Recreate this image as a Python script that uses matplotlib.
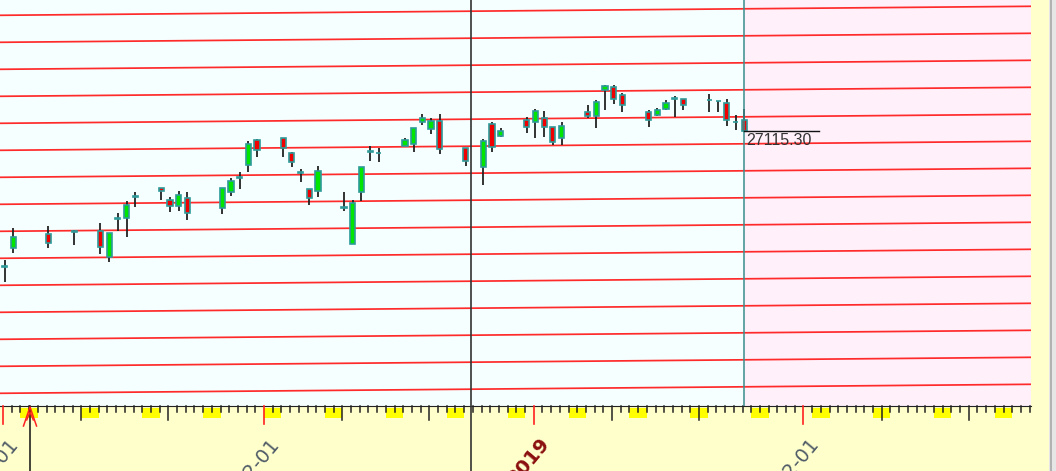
import matplotlib
matplotlib.use("Agg")
import matplotlib.pyplot as plt
import matplotlib.dates as mdates
from matplotlib.patches import Rectangle
from matplotlib.transforms import blended_transform_factory
import pandas as pd

# ---------------- data ----------------
dates = ["2018-11-01", "2018-11-02", "2018-11-06", "2018-11-09", "2018-11-12",
         "2018-11-13", "2018-11-14", "2018-11-15", "2018-11-16", "2018-11-19",
         "2018-11-20", "2018-11-21", "2018-11-22", "2018-11-26", "2018-11-27",
         "2018-11-28", "2018-11-29", "2018-11-30", "2018-12-03", "2018-12-04",
         "2018-12-05", "2018-12-06", "2018-12-07", "2018-12-10", "2018-12-11",
         "2018-12-12", "2018-12-13", "2018-12-14", "2018-12-17", "2018-12-18",
         "2018-12-19", "2018-12-20", "2018-12-21", "2018-12-24", "2018-12-26",
         "2018-12-27", "2018-12-28", "2018-12-31", "2019-01-01", "2019-01-02",
         "2019-01-03", "2019-01-04", "2019-01-07", "2019-01-08", "2019-01-09",
         "2019-01-10", "2019-01-11", "2019-01-14", "2019-01-15", "2019-01-16",
         "2019-01-17", "2019-01-18", "2019-01-21", "2019-01-22", "2019-01-23",
         "2019-01-24", "2019-01-25"]
opens = [25760, 25950, 26090, 26110, 26120, 25860, 26240, 26250, 26460, 26550,
         26430, 26370, 26450, 26350, 26510, 26650, 26780, 27030, 27050, 26900,
         26700, 26540, 26520, 26350, 25990, 26510, 26910, 26900, 26970, 26990,
         27210, 27140, 27220, 26950, 26760, 27190, 27070, 27230, 27210, 27250,
         27160, 27050, 27310, 27270, 27530, 27560, 27480, 27310, 27280, 27340,
         27440, 27440, 27430, 27420, 27400, 27210, 27230]
highs = [25830, 26150, 26170, 26130, 26200, 26100, 26300, 26420, 26510, 26550,
         26460, 26520, 26510, 26550, 26650, 26710, 27020, 27040, 27050, 26910,
         26740, 26540, 26770, 26510, 26430, 26760, 26970, 26950, 27050, 27150,
         27290, 27250, 27290, 26950, 27040, 27210, 27150, 27260, 27340, 27320,
         27160, 27210, 27380, 27430, 27580, 27580, 27500, 27330, 27350, 27430,
         27470, 27440, 27490, 27420, 27440, 27280, 27340]
lows = [25610, 25900, 25950, 25980, 25890, 25810, 26120, 26060, 26360, 26430,
        26310, 26320, 26230, 26290, 26470, 26540, 26710, 26860, 26860, 26760,
        26610, 26380, 26460, 26320, 25990, 26420, 26820, 26810, 26970, 26910,
        27180, 27090, 26890, 26770, 26580, 26910, 27060, 27100, 27050, 27060,
        26980, 26980, 27250, 27150, 27330, 27390, 27310, 27160, 27270, 27330,
        27260, 27330, 27310, 27310, 27170, 27130, 27110]
closes = [25770, 26060, 26000, 26120, 25960, 26100, 26250, 26380, 26470, 26520,
          26370, 26480, 26300, 26550, 26620, 26660, 26990, 26930, 26950, 26810,
          26710, 26450, 26720, 26360, 26400, 26760, 26920, 26900, 27030, 27150,
          27250, 27220, 26940, 26820, 27020, 26960, 27120, 27160, 27320, 27160,
          27010, 27170, 27270, 27410, 27570, 27440, 27380, 27230, 27330, 27400,
          27450, 27380, 27430, 27420, 27230, 27210, 27115.30]

# parallel channel lines (price at the left edge) and their rise across the chart
channel_levels = [28277, 28007, 27737, 27467, 27197, 26927, 26657, 26387,
                  26117, 25847, 25577, 25307, 25037, 24767, 24497]
channel_rise = 90

month_labels = ["11-01", "12-01", "2019", "02-01"]
month_dates = ["2018-11-01", "2018-12-01", "2019-01-01", "2019-02-01"]
cursor_date = "2018-12-24 18:00"
marker_date = "2018-11-04 02:30"
last_price = 27115.30

# ---------------- layout ----------------
W, H = 1056, 471
PX_DAY = 8.7
fig = plt.figure(figsize=(W / 100, H / 100), dpi=100, facecolor="#FFFFCC")
ax = fig.add_axes([0, 65 / H, 1031 / W, 406 / H])
ax.set_facecolor("#F5FFFF")

x0 = mdates.date2num(pd.Timestamp(month_dates[0]))
left = x0 - 3 / PX_DAY
right = x0 + (1031 - 3) / PX_DAY
ax.set_xlim(left, right)
ax.set_ylim(24370, 28430)
ax.set_xticks([])
ax.set_yticks([])
for s in ["top", "left", "right"]:
    ax.spines[s].set_visible(False)
ax.spines["bottom"].set_color("#222222")
ax.spines["bottom"].set_linewidth(0.8)

xs = [mdates.date2num(pd.Timestamp(d)) + 0.2 for d in dates]
last_x = xs[-1]

# future area
ax.axvspan(last_x, right, color="#FFF0FA", zorder=0, lw=0)

# channel lines
for p in channel_levels:
    ax.plot([left, right], [p, p + channel_rise], color="#FF2A2A", lw=1.25, zorder=1)

# candles
bw = 0.6
for x, o, h, l, c in zip(xs, opens, highs, lows, closes):
    ax.plot([x, x], [l, h], color="#222222", lw=1.3, zorder=3, solid_capstyle="butt")
    fc = "#00E600" if c > o else "#F00000"
    ax.add_patch(Rectangle((x - bw / 2, min(o, c)), bw, abs(c - o),
                           facecolor=fc, edgecolor="#2E9A9A", lw=1.2, zorder=4))

ax.axvline(last_x, color="#3A8C8C", lw=1.1, zorder=5)

# last price tag
ax.plot([last_x, last_x + 75 / PX_DAY], [last_price, last_price], color="#111111",
        lw=1, zorder=6)
ax.annotate(f"{last_price:.2f}", xy=(last_x, last_price), xytext=(2, -2),
            textcoords="offset pixels", ha="left", va="top", fontsize=11.5,
            family="Liberation Sans", color="#333333", zorder=6)

# ---------------- date axis band ----------------
trans = blended_transform_factory(ax.transData, fig.transFigure)


def yf(px):
    return 1 - px / H


for d in pd.date_range("2018-10-25", "2019-03-01"):
    x = mdates.date2num(d)
    if x < left or x > right:
        continue
    if d.weekday() == 5:
        ax.add_patch(Rectangle((x, yf(418)), 2, 10 / H, transform=trans,
                               facecolor="#FFFF00", lw=0, clip_on=False, zorder=1))
    if d.day == 1:
        ax.plot([x, x], [yf(406), yf(424)], transform=trans, color="#FF2020",
                lw=1.2, clip_on=False, zorder=3)
    elif d.day in (10, 20):
        ax.plot([x, x], [yf(406), yf(420)], transform=trans, color="#222222",
                lw=1.1, clip_on=False, zorder=3)
    else:
        ax.plot([x, x], [yf(406), yf(412)], transform=trans, color="#222222",
                lw=1.1, clip_on=False, zorder=3)

# month labels, rotated and running off the bottom edge like the original
for lab, d in zip(month_labels, month_dates):
    x = mdates.date2num(pd.Timestamp(d))
    bold = lab.isdigit()
    ax.text(x + 5 / PX_DAY, yf(434), lab, transform=trans, rotation=50,
            rotation_mode="anchor", ha="right", va="top", clip_on=False,
            fontsize=14, fontweight="bold" if bold else "normal",
            color="#8B1010" if bold else "#4E5A66")

# cursor line through the whole chart
cx = mdates.date2num(pd.Timestamp(cursor_date))
ax.plot([cx, cx], [0, 1], transform=trans, color="#333333", lw=1.2,
        clip_on=False, zorder=7)

# event marker on the date band
mx = mdates.date2num(pd.Timestamp(marker_date))
ax.plot([mx, mx], [yf(406), 0], transform=trans, color="#111111", lw=1.1,
        clip_on=False, zorder=7)
dx = 0.75
ax.plot([mx - dx, mx, mx + dx], [yf(426), yf(407), yf(426)], transform=trans,
        color="#FF2020", lw=1.1, clip_on=False, zorder=8)
ax.plot([mx - dx * 0.5, mx, mx + dx * 0.5], [yf(420), yf(412), yf(420)],
        transform=trans, color="#FF2020", lw=1.0, clip_on=False, zorder=8)

# right border strip
fig.patches.append(Rectangle((1049 / W, 0), 7 / W, 1, transform=fig.transFigure,
                             facecolor="#E6E6E6", lw=0, zorder=0))
fig.lines.append(plt.Line2D([1050.5 / W, 1050.5 / W], [0, 1],
                            transform=fig.transFigure, color="#A8A8A8", lw=1.2))

fig.savefig("out.png", dpi=100, facecolor=fig.get_facecolor())
